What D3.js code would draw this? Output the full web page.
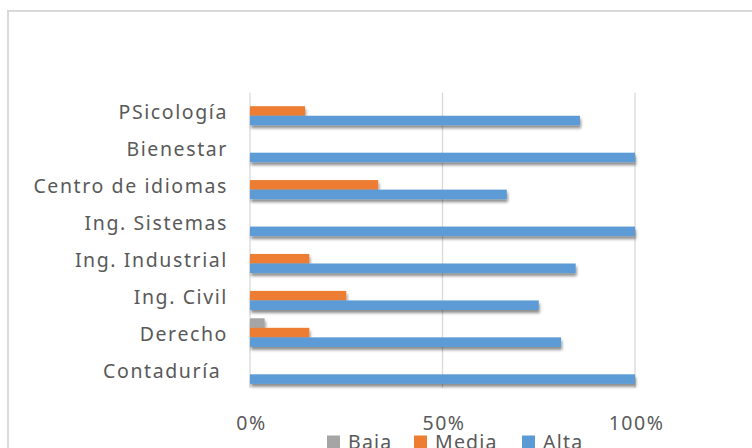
<!DOCTYPE html>
<html><head><meta charset="utf-8">
<script src="https://cdn.jsdelivr.net/npm/d3@7"></script>
<style>html,body{margin:0;padding:0;background:#fff;overflow:hidden}</style>
</head><body>
<svg id="c" width="752" height="448"></svg>
<script>
const categories = ["PSicología","Bienestar","Centro de idiomas","Ing. Sistemas","Ing. Industrial","Ing. Civil","Derecho","Contaduría "];
const seriesNames = ["Baja","Media","Alta"];
const seriesColors = ["#a5a5a5","#ed7d31","#5b9bd5"];
const baja  = [0, 0, 0, 0, 0, 0, 0.038, 0];
const media = [0.143, 0, 0.333, 0, 0.154, 0.25, 0.154, 0];
const alta  = [0.857, 1, 0.667, 1, 0.846, 0.75, 0.808, 1];
const tickValues = [0, 0.5, 1];
const seriesValues = [baja, media, alta];

const svg = d3.select("#c");
const defs = svg.append("defs");
const f = defs.append("filter").attr("id","sh").attr("x","-5%").attr("y","-50%").attr("width","110%").attr("height","250%");
f.append("feGaussianBlur").attr("in","SourceAlpha").attr("stdDeviation",1.8).attr("result","b");
f.append("feOffset").attr("in","b").attr("dx",1).attr("dy",2.5).attr("result","o");
f.append("feComponentTransfer").attr("in","o").attr("result","oc").append("feFuncA").attr("type","linear").attr("slope",0.45);
const m = f.append("feMerge"); m.append("feMergeNode").attr("in","oc"); m.append("feMergeNode").attr("in","SourceGraphic");

// outer chart border (top and left visible)
svg.append("path").attr("d","M8,448 V11 H752").attr("fill","none").attr("stroke","#d9d9d9").attr("stroke-width",2);

const x = d3.scaleLinear().domain([0,1]).range([250,635]);
const yb = d3.scaleBand().domain(categories).range([92.5,388]);
const band = yb.bandwidth();
const barH = band/(3+0.87);
const gapHalf = (band-3*barH)/2;

const font = "'Noto Sans', sans-serif";
// gridlines
svg.append("g").selectAll("line").data(tickValues).join("line")
  .attr("x1",d=>x(d)).attr("x2",d=>x(d)).attr("y1",92.5).attr("y2",388)
  .attr("stroke","#d9d9d9").attr("stroke-width",1.3);

const g = svg.append("g").attr("filter","url(#sh)");
categories.forEach((c,i)=>{
  seriesValues.forEach((vals,s)=>{
    const v = vals[i];
    if (v<=0) return;
    g.append("rect")
      .attr("x",x(0)).attr("width",x(v)-x(0))
      .attr("y",yb(c)+gapHalf+s*barH)
      .attr("height",barH)
      .attr("fill",seriesColors[s]);
  });
});

// category labels
svg.append("g").selectAll("text").data(categories).join("text")
  .attr("x",228).attr("y",d=>yb(d)+band/2+1)
  .attr("text-anchor","end").attr("dominant-baseline","central")
  .style("white-space","pre")
  .attr("font-family",font).attr("font-size",19.5).attr("letter-spacing",1.6).attr("fill","#595959")
  .text(d=>d);

// x tick labels
const xa = d3.axisBottom(x).tickValues(tickValues).tickFormat(d3.format(".0%")).tickSize(0).tickPadding(0);
const ax = svg.append("g").attr("transform","translate(0,412)").call(xa);
ax.select(".domain").remove();
ax.selectAll("text").attr("font-family",font).attr("font-size",19.5).attr("letter-spacing",1.5).attr("dx",1).attr("fill","#595959").attr("dy","0.9em");

// legend
const lx = [327, 414, 522];
const lg = svg.append("g");
seriesNames.forEach((n,i)=>{
  lg.append("rect").attr("x",lx[i]).attr("y",435.5).attr("width",13).attr("height",13).attr("fill",seriesColors[i]);
  lg.append("text").attr("x",lx[i]+21).attr("y",449).attr("font-family",font).attr("font-size",19.5).attr("letter-spacing",1.2).attr("fill","#595959").text(n);
});
</script>
</body></html>
